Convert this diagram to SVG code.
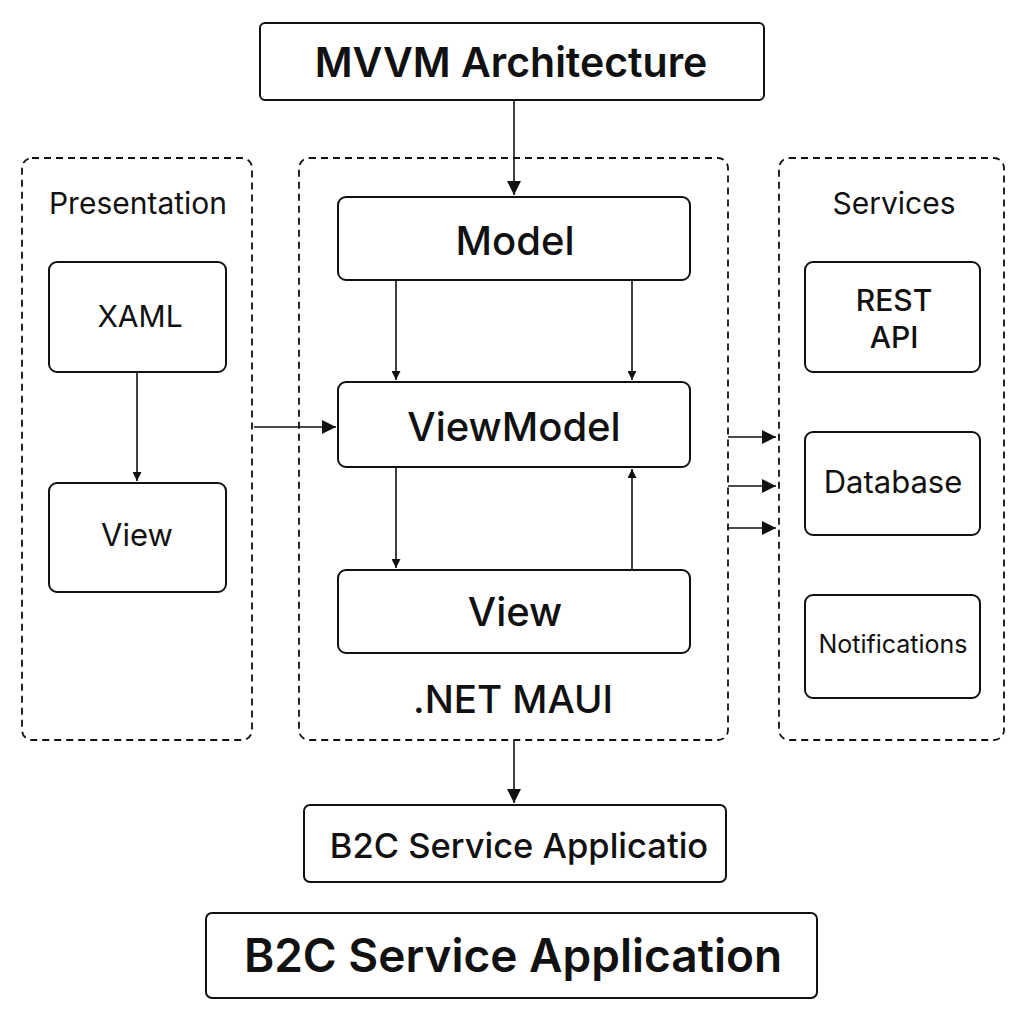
<svg xmlns="http://www.w3.org/2000/svg" width="1024" height="1024" viewBox="0 0 1024 1024">
<style>
.box{fill:#fff;stroke:#111;stroke-width:2}
.grp{fill:none;stroke:#111;stroke-width:1.8;stroke-dasharray:7 5}
.c{stroke:#111;stroke-width:1.6;fill:none}
text{font-family:Inter,"Noto Sans",sans-serif;fill:#111;text-anchor:middle}
.t1{font-size:41px;font-weight:600}
.t2{font-size:40px;font-weight:500}
.t3{font-size:30px;font-weight:400}
.t4{font-size:25px;font-weight:400}
.t5{font-size:46px;font-weight:600}
</style>
<defs>
<marker id="ah" viewBox="0 0 10 10" refX="10" refY="5" markerWidth="9" markerHeight="9" markerUnits="userSpaceOnUse" orient="auto"><path d="M0,0L10,5L0,10z" fill="#111"/></marker>
<marker id="ahl" viewBox="0 0 10 10" refX="10" refY="5" markerWidth="14" markerHeight="14" markerUnits="userSpaceOnUse" orient="auto"><path d="M0,0L10,5L0,10z" fill="#111"/></marker>
</defs>
<rect width="1024" height="1024" fill="#fff"/>
<g id="group-presentation"><rect class="grp" x="22" y="158" width="230" height="582" rx="10"/><text class="t3" x="138" y="214">Presentation</text></g>
<g id="group-maui"><rect class="grp" x="299" y="158" width="429" height="582" rx="10"/><text class="t2" x="513" y="713" style="font-size:38.5px">.NET MAUI</text></g>
<g id="group-services"><rect class="grp" x="779" y="158" width="225" height="582" rx="10"/><text class="t3" x="894" y="214">Services</text></g>
<g id="title"><rect class="box" x="260" y="23" width="504" height="77" rx="5"/><text class="t1" x="511" y="77">MVVM Architecture</text></g>
<g id="xaml"><rect class="box" x="49" y="262" width="177" height="110" rx="8"/><text class="t3" x="140" y="327">XAML</text></g>
<g id="view-left"><rect class="box" x="49" y="483" width="177" height="109" rx="8"/><text class="t3" x="137" y="546" style="font-size:31px">View</text></g>
<g id="model"><rect class="box" x="338" y="197" width="352" height="83" rx="8"/><text class="t2" x="515" y="255">Model</text></g>
<g id="viewmodel"><rect class="box" x="338" y="382" width="352" height="85" rx="8"/><text class="t2" x="514" y="441">ViewModel</text></g>
<g id="view-center"><rect class="box" x="338" y="570" width="352" height="83" rx="8"/><text class="t2" x="515" y="626">View</text></g>
<g id="rest-api"><rect class="box" x="805" y="262" width="175" height="110" rx="8"/><text class="t3" x="894" y="311" style="font-weight:500">REST</text><text class="t3" x="894" y="348" style="font-weight:500">API</text></g>
<g id="database"><rect class="box" x="805" y="432" width="175" height="103" rx="8"/><text class="t3" x="893" y="493" style="font-size:31px">Database</text></g>
<g id="notifications"><rect class="box" x="805" y="595" width="175" height="103" rx="8"/><text class="t4" x="893" y="653">Notifications</text></g>
<g id="b2c-small"><rect class="box" x="304" y="805" width="422" height="77" rx="6"/><text x="519" y="858" style="font-size:34.5px;font-weight:500">B2C Service Applicatio</text></g>
<g id="b2c-large"><rect class="box" x="206" y="913" width="611" height="85" rx="6"/><text class="t5" x="513" y="972">B2C Service Application</text></g>
<g id="connectors">
<line class="c" x1="514" y1="100" x2="514" y2="195" marker-end="url(#ahl)"/>
<line class="c" x1="137" y1="372" x2="137" y2="481" marker-end="url(#ah)"/>
<line class="c" x1="254" y1="427" x2="336" y2="427" marker-end="url(#ahl)"/>
<line class="c" x1="396" y1="280" x2="396" y2="380" marker-end="url(#ah)"/>
<line class="c" x1="632" y1="280" x2="632" y2="380" marker-end="url(#ah)"/>
<line class="c" x1="396" y1="467" x2="396" y2="568" marker-end="url(#ah)"/>
<line class="c" x1="632" y1="570" x2="632" y2="469" marker-end="url(#ah)"/>
<line class="c" x1="728" y1="437" x2="776" y2="437" marker-end="url(#ahl)"/>
<line class="c" x1="728" y1="486" x2="776" y2="486" marker-end="url(#ahl)"/>
<line class="c" x1="728" y1="528" x2="776" y2="528" marker-end="url(#ahl)"/>
<line class="c" x1="514" y1="740" x2="514" y2="803" marker-end="url(#ahl)"/>
</g>
</svg>
